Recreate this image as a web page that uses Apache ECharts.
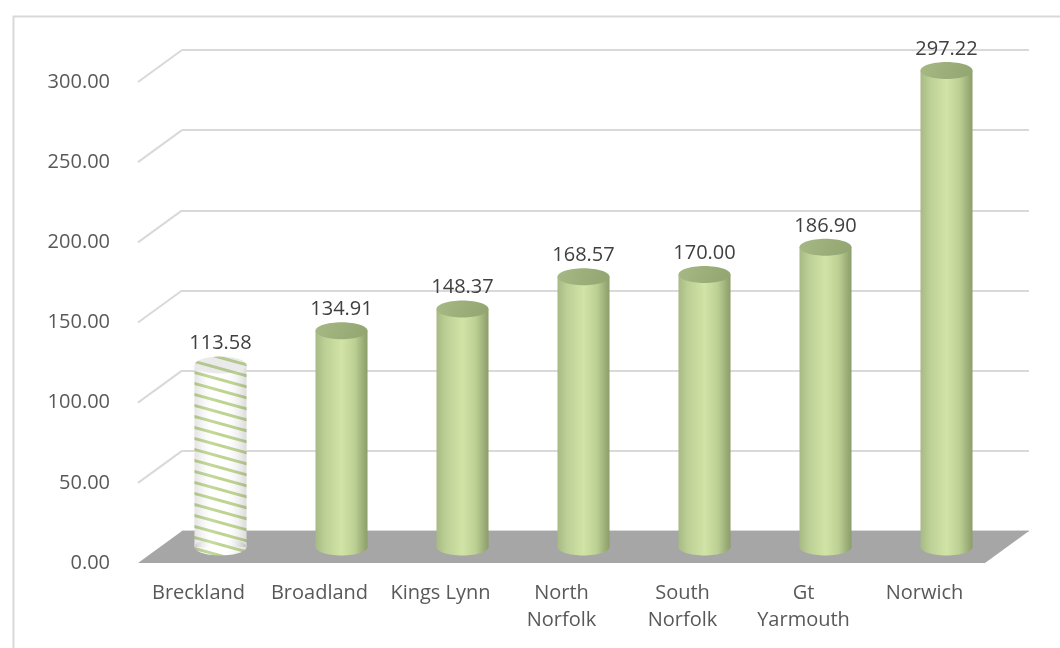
<!DOCTYPE html>
<html>
<head>
<meta charset="utf-8">
<script src="https://cdn.jsdelivr.net/npm/echarts@6/dist/echarts.min.js"></script>
<style>
  html, body { margin: 0; padding: 0; background: #ffffff; }
  #chart { width: 1060px; height: 648px; }
</style>
</head>
<body>
<div id="chart"></div>
<script>
// Districts and their values
const categories = ['Breckland', 'Broadland', 'Kings Lynn', 'North\nNorfolk', 'South\nNorfolk', 'Gt\nYarmouth', 'Norwich'];
const values = [113.58, 134.91, 148.37, 168.57, 170.00, 186.90, 297.22];
const yTicks = [0, 50, 100, 150, 200, 250, 300];
const stripedIndex = 0;

// Pseudo-3D depth: front plane, mid plane (cylinders) and back wall
const DX = 44, DY = 32;
const FRONT = { left: 138, right: 75, top: 82, bottom: 85 };
const MID = { left: FRONT.left + DX / 2, right: FRONT.right - DX / 2, top: FRONT.top - DY / 2, bottom: FRONT.bottom + DY / 2 };
const BACK = { left: FRONT.left + DX, right: FRONT.right - DX, top: FRONT.top - DY, bottom: FRONT.bottom + DY };

const FONT = 'Open Sans';
const FONT_SIZE = 20;
const yMin = yTicks[0], yMax = yTicks[yTicks.length - 1], yStep = yTicks[1] - yTicks[0];

// Diagonal stripe pattern (shallow downward diagonal)
const TW = 40, TH = 11;
const pc = document.createElement('canvas');
pc.width = TW; pc.height = TH;
(function () {
  const c = pc.getContext('2d');
  c.fillStyle = '#ffffff';
  c.fillRect(0, 0, TW, TH);
  c.strokeStyle = '#bcd48e';
  c.lineWidth = 3;
  for (let k = -1; k <= 1; k++) {
    c.beginPath();
    c.moveTo(-4, k * TH - 1.1);
    c.lineTo(TW + 4, k * TH + TH + 1.1);
    c.stroke();
  }
})();
const stripePattern = { image: pc, repeat: 'repeat' };

const G = echarts.graphic;
const bodyGrad = () => new G.LinearGradient(0, 0, 1, 0, [
  { offset: 0, color: '#a7ba84' },
  { offset: 0.18, color: '#bccf95' },
  { offset: 0.5, color: '#d2e3a6' },
  { offset: 0.75, color: '#bdd094' },
  { offset: 1, color: '#8b9d69' }
]);
const topGrad = () => new G.LinearGradient(0, 0, 1, 1, [
  { offset: 0, color: '#a6b883' },
  { offset: 1, color: '#92a470' }
]);
const shadeGrad = () => new G.LinearGradient(0, 0, 1, 0, [
  { offset: 0, color: 'rgba(100,100,100,0.18)' },
  { offset: 0.3, color: 'rgba(255,255,255,0.1)' },
  { offset: 0.55, color: 'rgba(255,255,255,0)' },
  { offset: 1, color: 'rgba(90,90,90,0.22)' }
]);

function renderCylinder(params, api) {
  const idx = api.value(0);
  const v = api.value(1);
  const top = api.coord([idx, v]);
  const base = api.coord([idx, 0]);
  const w = api.size([1, 0])[0] * 0.43;
  const rx = w / 2, ry = 8.5;
  const cx = top[0];
  const striped = idx === stripedIndex;
  const children = [];
  const bodyFill = striped ? stripePattern : bodyGrad();
  children.push({ type: 'ellipse', shape: { cx: cx, cy: base[1], rx: rx, ry: ry }, style: { fill: bodyFill } });
  children.push({ type: 'rect', shape: { x: cx - rx, y: top[1], width: w, height: base[1] - top[1] }, style: { fill: bodyFill } });
  if (striped) {
    children.push({ type: 'ellipse', shape: { cx: cx, cy: base[1], rx: rx, ry: ry }, style: { fill: shadeGrad() } });
    children.push({ type: 'rect', shape: { x: cx - rx, y: top[1], width: w, height: base[1] - top[1] }, style: { fill: shadeGrad() } });
    children.push({ type: 'ellipse', shape: { cx: cx, cy: top[1], rx: rx, ry: ry }, style: { fill: stripePattern } });
    children.push({ type: 'ellipse', shape: { cx: cx, cy: top[1], rx: rx, ry: ry }, style: { fill: 'rgba(150,150,150,0.2)' } });
  } else {
    children.push({ type: 'ellipse', shape: { cx: cx, cy: top[1], rx: rx, ry: ry }, style: { fill: topGrad() } });
  }
  children.push({
    type: 'text',
    style: {
      x: cx, y: top[1] - ry - 13,
      text: v.toFixed(2),
      align: 'center', verticalAlign: 'middle',
      fill: '#404040', font: FONT_SIZE + 'px "' + FONT + '"'
    }
  });
  return { type: 'group', children: children };
}

function renderFloor(params, api) {
  const cs = params.coordSys;
  const y0 = api.coord([0, 0])[1];
  return {
    type: 'polygon',
    shape: { points: [[cs.x, y0], [cs.x + DX, y0 - DY], [cs.x + cs.width + DX, y0 - DY], [cs.x + cs.width, y0]] },
    style: { fill: '#a6a6a6' }
  };
}

function renderSideLine(params, api) {
  const cs = params.coordSys;
  const y = api.coord([0, api.value(1)])[1];
  return {
    type: 'line',
    shape: { x1: cs.x, y1: y, x2: cs.x + DX, y2: y - DY },
    style: { stroke: '#d9d9d9', lineWidth: 2 }
  };
}

const hiddenX = (gi) => ({ type: 'category', gridIndex: gi, data: categories, show: false });

const option = {
  animation: false,
  backgroundColor: '#ffffff',
  graphic: [{
    type: 'rect', left: 11, top: 14, silent: true,
    shape: { width: 1100, height: 700 },
    style: { fill: 'none', stroke: '#d9d9d9', lineWidth: 2 }
  }],
  grid: [
    Object.assign({}, FRONT),
    Object.assign({}, MID),
    Object.assign({}, BACK)
  ],
  xAxis: [
    {
      type: 'category', gridIndex: 0, data: categories,
      axisLine: { show: false }, axisTick: { show: false },
      axisLabel: { color: '#595959', fontFamily: FONT, fontSize: FONT_SIZE, lineHeight: 27, margin: 17, interval: 0 }
    },
    hiddenX(1),
    hiddenX(2)
  ],
  yAxis: [
    {
      type: 'value', gridIndex: 0, min: yMin, max: yMax, interval: yStep,
      axisLine: { show: false }, axisTick: { show: false }, splitLine: { show: false },
      axisLabel: { color: '#595959', fontFamily: FONT, fontSize: FONT_SIZE, margin: 28, formatter: (v) => v.toFixed(2) }
    },
    { type: 'value', gridIndex: 1, min: yMin, max: yMax, interval: yStep, show: false },
    {
      type: 'value', gridIndex: 2, min: yMin, max: yMax, interval: yStep,
      axisLine: { show: false }, axisTick: { show: false }, axisLabel: { show: false },
      splitLine: { show: true, lineStyle: { color: '#d9d9d9', width: 2 } }
    }
  ],
  series: [
    {
      type: 'custom', name: 'side', xAxisIndex: 0, yAxisIndex: 0, z: 1, silent: true,
      renderItem: renderSideLine,
      data: yTicks.slice(1).map((t) => [0, t])
    },
    {
      type: 'custom', name: 'floor', xAxisIndex: 0, yAxisIndex: 0, z: 2, silent: true,
      renderItem: renderFloor,
      data: [[0, 0]]
    },
    {
      type: 'custom', name: 'values', xAxisIndex: 1, yAxisIndex: 1, z: 5,
      renderItem: renderCylinder,
      data: values.map((v, i) => [i, v])
    }
  ]
};

const chart = echarts.init(document.getElementById('chart'), null, { renderer: 'canvas' });
chart.setOption(option);
</script>
</body>
</html>
